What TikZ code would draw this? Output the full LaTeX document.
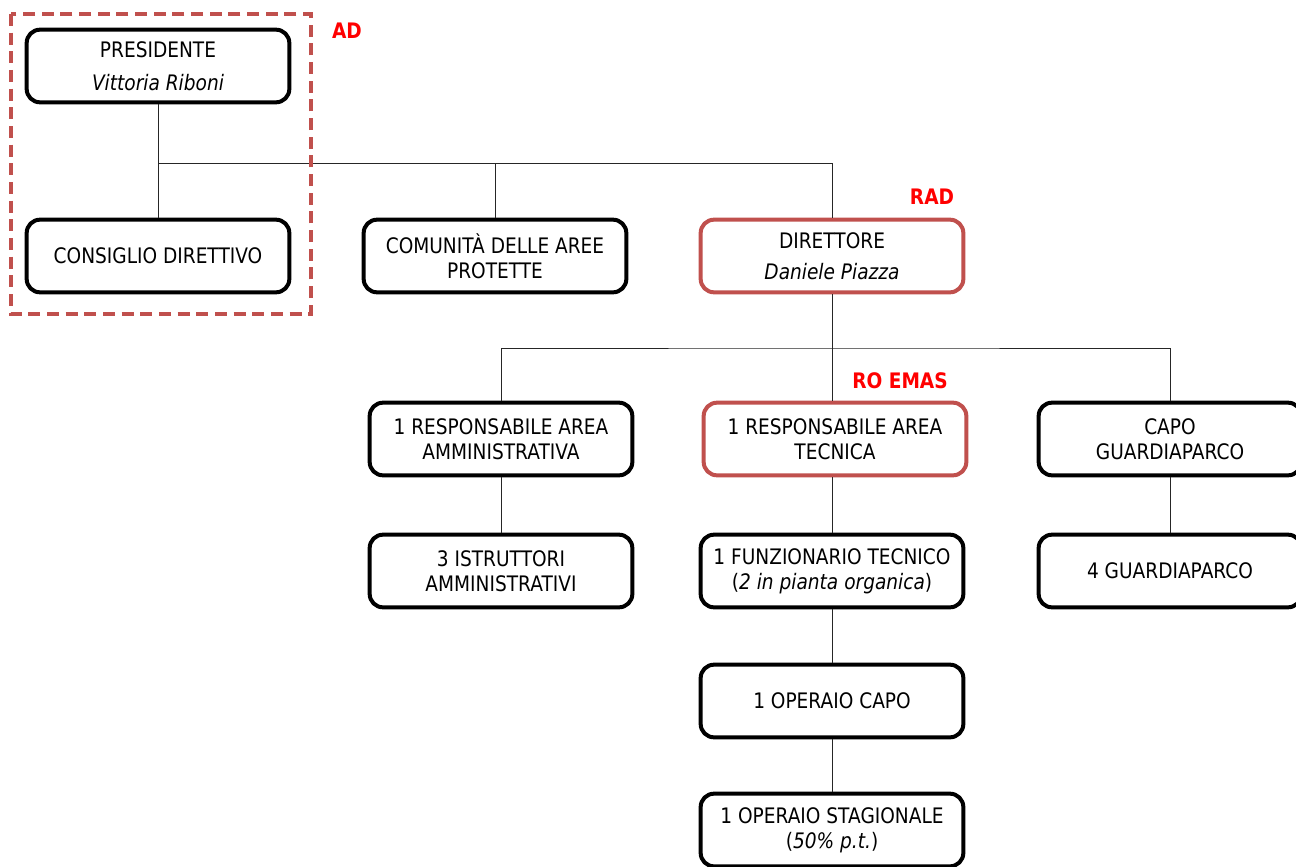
\documentclass[tikz,border=0pt]{standalone}
\usepackage{fontspec}
\setmainfont{DejaVu Sans}[FakeStretch=0.87]
\usepackage{xcolor}
\usepackage{tikz}

\definecolor{boxred}{HTML}{C0504D}

\tikzset{
  unit/.style={draw=black, line width=3pt, rounded corners=10pt, fill=white,
    minimum width=197pt, minimum height=54.5pt, align=center, inner sep=2pt,
    font=\fontsize{16}{19}\selectfont},
  redunit/.style={unit, draw=boxred},
  conn/.style={draw=black!85, line width=0.6pt},
  tag/.style={text=red, font=\fontsize{16}{19}\selectfont\bfseries},
}

\begin{document}
\begin{tikzpicture}[x=0.75pt, y=-0.75pt]

\useasboundingbox (0,0) rectangle (1296,867);
\clip (0,0) rectangle (1296,867);

% Define coordinates for the two horizontal bars
\coordinate (bus1) at (0,163);
\coordinate (bus2) at (0,348);

% Top level
\node[unit] (pres) at (158,66) {PRESIDENTE\\[6pt]\textit{Vittoria Riboni}};
\node[unit] (cons) at (158,256) {CONSIGLIO DIRETTIVO};
\node[unit] (com) at (495,256) {COMUNITÀ DELLE AREE\\PROTETTE};
\node[redunit] (dir) at (832,256) {DIRETTORE\\[4pt]\textit{Daniele Piazza}};

% Second level
\node[unit] (ram) at (501,439) {1 RESPONSABILE AREA\\AMMINISTRATIVA};
\node[redunit] (rta) at (835,439) {1 RESPONSABILE AREA\\TECNICA};
\node[unit] (capo) at (1170,439) {CAPO\\GUARDIAPARCO};

% Lower levels
\node[unit] (istr) at (501,571) {3 ISTRUTTORI\\AMMINISTRATIVI};
\node[unit] (funz) at (832,571) {1 FUNZIONARIO TECNICO\\(\textit{2 in pianta organica})};
\node[unit] (guard) at (1170,571) {4 GUARDIAPARCO};
\node[unit] (opcapo) at (832,701) {1 OPERAIO CAPO};
\node[unit] (opstag) at (832,830) {1 OPERAIO STAGIONALE\\(\textit{50\% p.t.})};

% Draw the connectors
\draw[conn] (pres.south) -- (cons.north);
\draw[conn] (pres.south |- bus1) -| (dir.north);
\draw[conn] (com.north) -- (com.north |- bus1);
\draw[conn] (dir.south) -- (dir.south |- rta.north);
\draw[conn] (ram.north) |- (dir.south |- bus2) -| (capo.north);
\draw[conn] (ram.south) -- (istr.north);
\draw[conn] (funz.north) -- (funz.north |- rta.south);
\draw[conn] (funz.south) -- (opcapo.north);
\draw[conn] (opcapo.south) -- (opstag.north);
\draw[conn] (capo.south) -- (guard.north);

% Dashed frame round the board
\draw[boxred, line width=3pt, dash pattern=on 9pt off 5pt] (11,14) rectangle (311,314);

% Add labels
\node[tag] (ad) at (347,31) {AD};
\node[tag] (rad) at (932,197) {RAD};
\node[tag] (roemas) at (900,381) {RO EMAS};

\end{tikzpicture}
\end{document}
